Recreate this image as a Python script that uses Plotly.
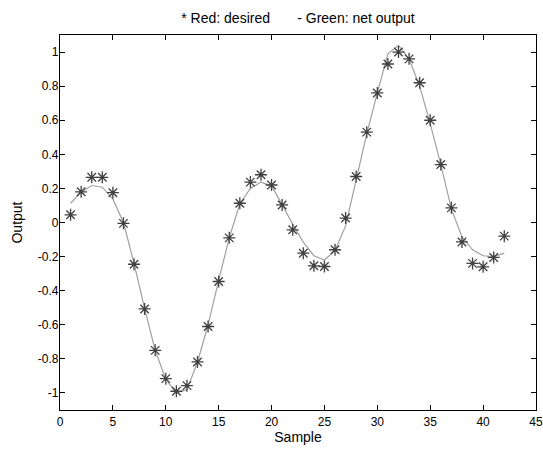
import plotly.graph_objects as go

samples = list(range(1, 43))
desired = [0.045, 0.18, 0.265, 0.265, 0.175, -0.005, -0.245, -0.507, -0.75, -0.916,
           -0.99, -0.957, -0.818, -0.61, -0.346, -0.09, 0.113, 0.237, 0.28, 0.22,
           0.103, -0.043, -0.18, -0.254, -0.258, -0.16, 0.026, 0.27, 0.53, 0.76,
           0.93, 1.0, 0.96, 0.82, 0.60, 0.34, 0.086, -0.114, -0.24, -0.26,
           -0.205, -0.08]
net_output = [0.113, 0.178, 0.217, 0.207, 0.137, 0.0, -0.24, -0.505, -0.75, -0.92,
              -1.0, -0.98, -0.82, -0.60, -0.34, -0.09, 0.11, 0.20, 0.237, 0.215,
              0.105, -0.01, -0.115, -0.195, -0.22, -0.165, -0.02, 0.25, 0.52, 0.76,
              0.99, 1.04, 0.96, 0.80, 0.58, 0.34, 0.08, -0.085, -0.16, -0.195,
              -0.2, -0.18]

x_ticks = [0, 5, 10, 15, 20, 25, 30, 35, 40, 45]
y_ticks = [-1, -0.8, -0.6, -0.4, -0.2, 0, 0.2, 0.4, 0.6, 0.8, 1]
y_tick_text = ["-1", "-0.8", "-0.6", "-0.4", "-0.2", "0", "0.2", "0.4", "0.6", "0.8", "1"]

family = "Liberation Sans, Arial, sans-serif"
tick_font = dict(family=family, size=12, color="black")
label_font = dict(family=family, size=14, color="black")

fig = go.Figure()
fig.add_trace(go.Scatter(x=samples, y=net_output, mode="lines",
                         line=dict(color="#a0a0a0", width=1.2), name="net output"))
fig.add_trace(go.Scatter(x=samples, y=desired, mode="markers",
                         marker=dict(symbol="asterisk-open", size=10, color="#404040",
                                     line=dict(color="#404040", width=1.3)),
                         name="desired"))

axis_common = dict(showline=True, linecolor="black", linewidth=1.3, mirror="ticks",
                   ticks="inside", ticklen=5, tickcolor="black", tickwidth=1,
                   showgrid=False, zeroline=False, tickfont=tick_font, automargin=False)

fig.update_layout(
    width=543, height=449,
    margin=dict(l=60, r=7, t=35, b=39),
    paper_bgcolor="white", plot_bgcolor="white",
    showlegend=False,
    font=tick_font,
    title=dict(text="* Red: desired&nbsp;&nbsp;&nbsp;&nbsp;&nbsp;&nbsp; - Green: net output",
               x=0.5, xref="paper", xanchor="center", y=1 - 18 / 449, yref="container",
               yanchor="middle", font=label_font),
    xaxis=dict(range=[0, 45], tickvals=x_ticks,
               title=dict(text="Sample", font=label_font, standoff=3), **axis_common),
    yaxis=dict(range=[-1.1, 1.1], tickvals=y_ticks, ticktext=y_tick_text,
               ticklabelstandoff=-2,
               title=dict(text="Output", font=label_font, standoff=11), **axis_common),
)

fig.write_html("out.html", config={"displayModeBar": False},
               post_script="document.body.style.margin='0';")
